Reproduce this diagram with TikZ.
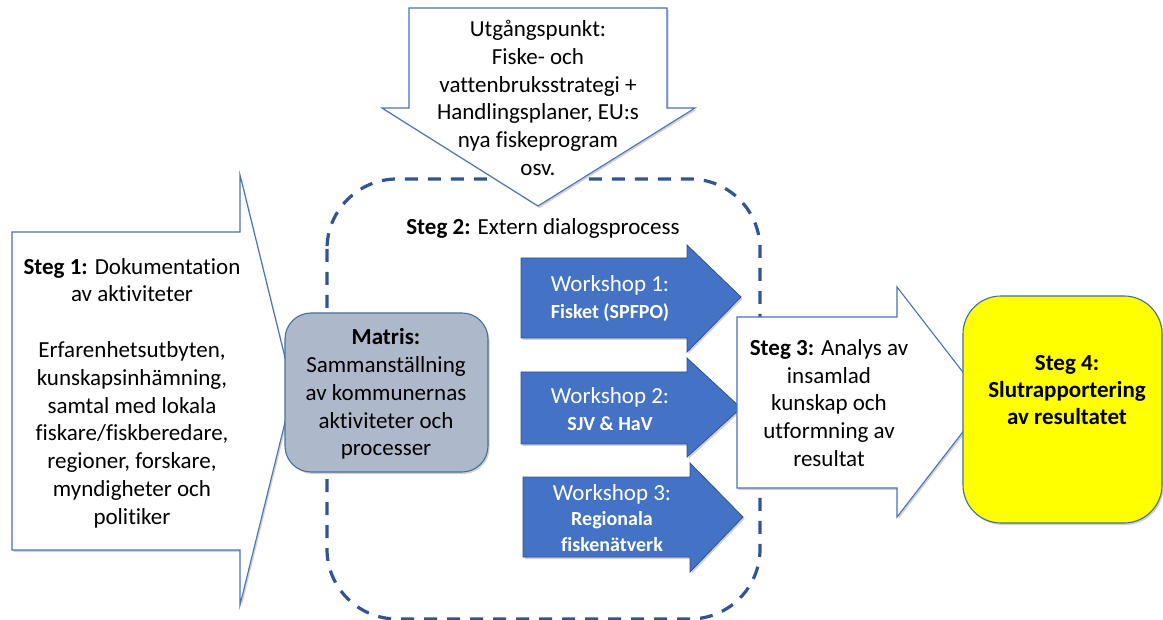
\documentclass[tikz,border=0pt]{standalone}
\usepackage{fontspec}
\setmainfont{Carlito}[Ligatures={NoCommon,NoDiscretionary,NoContextual}]
\usetikzlibrary{shadows}
\definecolor{dashblue}{HTML}{2F5597}
\definecolor{lineblue}{HTML}{4A72B8}
\definecolor{wsfill}{HTML}{4472C4}
\definecolor{wsline}{HTML}{2F528F}
\definecolor{matfill}{HTML}{ADB9CA}
\definecolor{matline}{HTML}{41719C}
\definecolor{stegyellow}{HTML}{FFFF00}
\begin{document}
\begin{tikzpicture}[x=1pt,y=-1pt,
  txt/.style={align=center,font=\fontsize{23}{27.8}\selectfont,inner sep=0pt},
  wstxt/.style={align=center,font=\fontsize{23}{27}\selectfont,inner sep=0pt,text=white},
  sh/.style={drop shadow={shadow xshift=1.5pt,shadow yshift=-2pt,opacity=0.3,fill=black!60}},
  whitearrow/.style={draw=lineblue,line width=1.1pt,fill=white,sh},
  wsarrow/.style={draw=wsline,line width=0.8pt,fill=wsfill,sh},
  dashbox/.style={draw=dashblue,line width=3.2pt,dash pattern=on 13pt off 10pt},
]
\useasboundingbox (0,0) rectangle (1163,620);

% dashed region (Steg 2)
\draw[dashbox,rounded corners=70pt] (327,179) rectangle (760,619);

% top arrow (Utgangspunkt)
\draw[whitearrow] (409,8) -- (667,8) -- (667,108) -- (695,108) -- (538,206) -- (382,108) -- (409,108) -- cycle;

% Steg 1 arrow
\draw[whitearrow] (12,232) -- (240,232) -- (240,175) -- (293,390) -- (240,605) -- (240,550) -- (12,550) -- cycle;

% Matris box
\draw[draw=matline,line width=1.1pt,fill=matfill,rounded corners=26pt,sh] (285,313) rectangle (488,472);

% Workshop arrows
\draw[wsarrow] (521,258) -- (687,258) -- (687,245) -- (741,297) -- (687,352) -- (687,338) -- (521,338) -- cycle;
\draw[wsarrow] (521,372) -- (687,372) -- (687,358) -- (741,408) -- (687,457) -- (687,444) -- (521,444) -- cycle;
\draw[wsarrow] (523,477) -- (690,477) -- (690,463) -- (743,517) -- (690,572) -- (690,557) -- (523,557) -- cycle;

% Steg 3 arrow
\draw[whitearrow] (737,317) -- (897,317) -- (897,287) -- (986,402) -- (897,517) -- (897,488) -- (737,488) -- cycle;

% Steg 4 box
\draw[draw=matline,line width=1.1pt,fill=stegyellow,rounded corners=38pt,sh] (963,296) rectangle (1162,523);

% texts
\node[txt] (utg) at (538,98) {Utgångspunkt:\\Fiske- och\\vattenbruksstrategi +\\Handlingsplaner, EU:s\\nya fiskeprogram\\osv.};
\node[txt] (steg1) at (132,393) {\textbf{Steg 1:} Dokumentation\\av aktiviteter\\[27.8pt]Erfarenhetsutbyten,\\kunskapsinhämning,\\samtal med lokala\\fiskare/fiskberedare,\\regioner, forskare,\\myndigheter och\\politiker};
\node[txt] (steg2) at (543,228) {\textbf{Steg 2:} Extern dialogsprocess};
\node[txt] (matris) at (386,394) {\textbf{Matris:}\\Sammanställning\\av kommunernas\\aktiviteter och\\processer};
\node[wstxt] (ws1) at (610,299) {Workshop 1:\\\fontsize{20}{25}\selectfont\bfseries Fisket (SPFPO)};
\node[wstxt] (ws2) at (610,409) {Workshop 2:\\\fontsize{20}{25}\selectfont\bfseries SJV \& HaV};
\node[wstxt,font=\fontsize{23}{25.5}\selectfont] (ws3) at (612,518) {Workshop 3:\\\fontsize{20}{25}\selectfont\bfseries Regionala\\\fontsize{20}{25}\selectfont\bfseries fiskenätverk};
\node[txt] (steg3) at (829,403) {\textbf{Steg 3:} Analys av\\insamlad\\kunskap och\\utformning av\\resultat};
\node[txt,font=\fontsize{23}{27.3}\selectfont\bfseries] (steg4) at (1067,390) {Steg 4:\\Slutrapportering\\av resultatet};
\end{tikzpicture}
\end{document}
